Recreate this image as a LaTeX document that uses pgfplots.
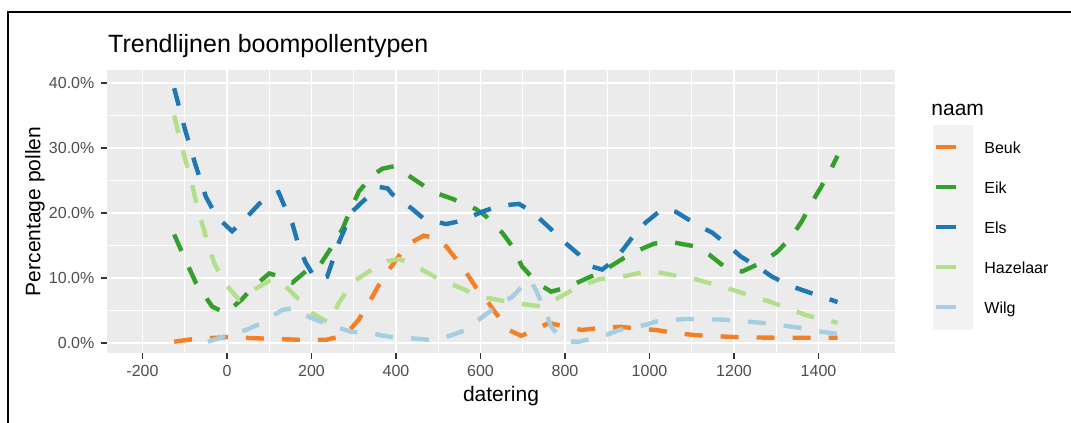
\documentclass[border=0pt]{standalone}
\usepackage{fontspec}
\setmainfont{Liberation Sans}
\usepackage{pgfplots}
\pgfplotsset{compat=1.18}
\definecolor{cBeuk}{HTML}{F47F24}
\definecolor{cEik}{HTML}{33A02C}
\definecolor{cEls}{HTML}{1F78B4}
\definecolor{cHaz}{HTML}{B2DF8A}
\definecolor{cWilg}{HTML}{A6CEE3}
\definecolor{panel}{HTML}{EBEBEB}
\definecolor{keybg}{HTML}{F2F2F2}
\definecolor{tickc}{HTML}{4D4D4D}
\definecolor{tickm}{HTML}{333333}
\begin{document}
\begin{tikzpicture}
\path[use as bounding box] (0pt,0pt) rectangle (535.5pt,-211.5pt);
% scanned frame
\draw[black, line width=1.4pt] (4pt,-215pt) -- (4pt,-6pt) -- (540pt,-6pt);
% legend key background
\fill[keybg] (466.5pt,-62.5pt) rectangle (486.5pt,-165pt);
\node[anchor=base west, inner sep=0pt, font=\fontsize{10.5}{12}\selectfont] at (465.5pt,-57.5pt) {naam};
\begin{axis}[
  at={(53.5pt,-176.5pt)}, anchor=south west,
  scale only axis, width=394pt, height=141.5pt,
  xmin=-284, xmax=1581, ymin=-1.54, ymax=42,
  axis background/.style={fill=panel},
  axis line style={draw=none},
  xtick={-200,0,...,1400}, minor xtick={-100,100,...,1500},
  ytick={0,10,...,40}, minor ytick={5,15,...,35},
  grid=both,
  major grid style={white, line width=0.9pt},
  minor grid style={white, line width=0.45pt},
  tick align=outside, tick pos=left,
  major tick length=2.8pt, minor tick length=0pt,
  every tick/.style={tickm, line width=0.6pt},
  /pgf/number format/assume math mode=true,
  /pgf/number format/1000 sep={},
  ticklabel style={font=\fontsize{8}{9}\selectfont, text=tickc},
  yticklabel={\pgfmathprintnumber[fixed,fixed zerofill,precision=1]{\tick}\%},
  every axis title shift=0pt,
  title={Trendlijnen boompollentypen},
  title style={at={(axis description cs:0.001,1.0636)}, anchor=base west, inner sep=0pt, font=\fontsize{12.5}{14}\selectfont},
  xlabel={datering},
  xlabel style={at={(axis description cs:0.5,-0.1696)}, anchor=base, inner sep=0pt, font=\fontsize{10.5}{12}\selectfont},
  ylabel={Percentage pollen},
  ylabel style={at={(axis description cs:-0.0914,0.5)}, anchor=center, inner sep=0pt, font=\fontsize{10.5}{12}\selectfont},
  every axis plot/.append style={line width=2.2pt, dash pattern=on 9pt off 9pt},
  legend style={at={(axis description cs:1.0495,0.795)}, anchor=north west, draw=none, fill=none,
    inner sep=0pt, outer sep=0pt, row sep=0pt,
    font=\fontsize{8}{9}\selectfont,
    nodes={inner sep=0pt, text height=12.9pt, text depth=7.1pt},
    /tikz/every odd column/.append style={column sep=13pt}},
  legend cell align=left,
  legend image code/.code={\draw[#1, solid, line width=2.2pt] (0pt,0.4pt) -- (10pt,0.4pt);},
]
\addplot[cBeuk] coordinates {
(-125,0.2) (-80,0.6) (0,0.9) (80,0.7) (170,0.5) (235,0.5) (280,1.2) (312,3.6) (336,6.2) (367,9.8) (414,14.0) (440,15.6) (465,16.5) (494,16.2) (518,14.9) (556,11.8) (590,8.5) (613,6.7) (636,4.6) (667,2.0) (696,1.1) (730,2.0) (762,3.1) (795,2.6) (840,2.0) (880,2.3) (930,2.5) (960,2.3) (1015,2.0) (1054,1.6) (1110,1.2) (1141,1.1) (1205,0.9) (1306,0.8) (1382,0.8) (1445,0.8)
};
\addlegendentry{Beuk}
\addplot[cEik] coordinates {
(-125,16.7) (-100,13.0) (-74,9.3) (-35,5.6) (-3,4.6) (35,6.7) (60,8.5) (100,10.7) (131,10.1) (155,9.3) (186,11.0) (218,11.8) (249,14.9) (273,17.5) (293,20.6) (312,23.3) (343,25.7) (367,26.8) (395,27.2) (431,25.7) (470,24.0) (502,22.9) (533,22.2) (589,20.6) (613,19.5) (651,17.0) (675,14.9) (698,11.8) (722,10.1) (745,8.8) (767,7.9) (802,8.5) (857,10.1) (888,11.0) (935,12.9) (968,14.1) (1011,15.3) (1054,15.5) (1105,14.9) (1141,13.6) (1180,11.6) (1219,11.0) (1266,12.4) (1302,14.0) (1337,16.4) (1361,18.8) (1385,21.7) (1406,24.0) (1430,26.8) (1445,28.8)
};
\addlegendentry{Eik}
\addplot[cEls] coordinates {
(-125,39.2) (-100,33.0) (-75,27.5) (-50,22.5) (-24,19.4) (12,17.2) (36,18.6) (76,21.4) (107,22.9) (122,23.2) (139,20.6) (155,18.3) (170,14.9) (186,12.4) (210,9.8) (237,10.2) (265,15.5) (296,20.2) (320,21.7) (360,24.0) (380,23.8) (391,22.9) (439,20.6) (466,19.1) (518,18.3) (556,18.8) (604,20.2) (644,21.1) (691,21.4) (722,20.2) (762,17.8) (790,16.0) (833,13.6) (861,11.8) (888,11.3) (920,12.9) (968,17.0) (992,18.6) (1030,20.6) (1062,20.2) (1117,18.0) (1148,17.0) (1188,14.9) (1216,13.3) (1259,11.6) (1290,10.2) (1337,8.7) (1377,7.8) (1445,6.3)
};
\addlegendentry{Els}
\addplot[cHaz] coordinates {
(-125,35.0) (-106,29.9) (-86,25.3) (-71,21.1) (-50,16.4) (-31,12.4) (-7,9.3) (28,6.7) (52,7.8) (107,9.8) (139,8.7) (170,6.7) (201,4.6) (241,3.1) (265,6.2) (296,9.3) (343,11.3) (380,12.6) (407,12.9) (431,12.4) (494,10.1) (573,7.9) (604,7.1) (675,6.2) (746,5.6) (778,6.7) (826,8.5) (880,9.8) (935,10.2) (992,11.0) (1018,10.9) (1110,9.8) (1195,8.2) (1283,6.4) (1370,4.3) (1394,3.9) (1445,3.1)
};
\addlegendentry{Hazelaar}
\addplot[cWilg] coordinates {
(-45,0.2) (-12,0.9) (45,2.0) (83,3.1) (131,5.1) (162,5.4) (194,4.0) (241,2.8) (296,1.7) (329,1.6) (391,0.9) (423,0.8) (478,0.5) (518,0.9) (566,2.0) (604,4.0) (651,6.2) (675,7.1) (715,9.8) (731,8.2) (755,4.6) (767,2.5) (790,0.8) (809,0.2) (833,0.2) (897,1.2) (928,2.0) (992,2.8) (1015,3.3) (1086,3.7) (1172,3.6) (1266,3.1) (1361,2.3) (1377,2.0) (1445,1.4)
};
\addlegendentry{Wilg}
\end{axis}
\end{tikzpicture}
\end{document}
